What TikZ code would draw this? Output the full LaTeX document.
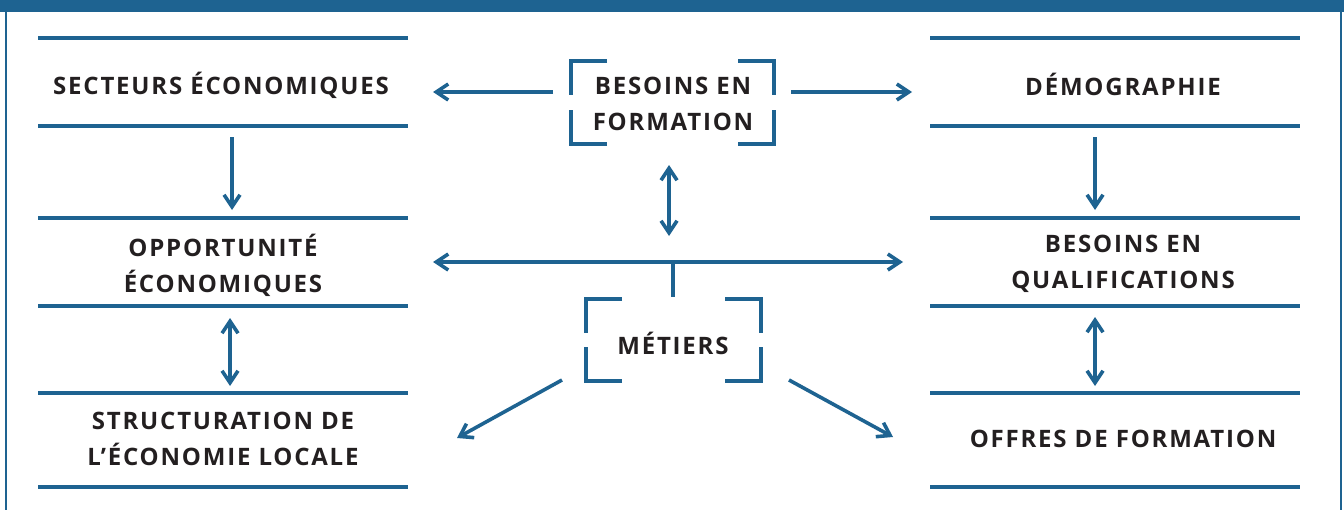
\documentclass[tikz,border=0pt]{standalone}
\usepackage{fontspec}
\setmainfont{Open Sans}
\newfontfamily\labfont[LetterSpace=7.5]{Open Sans}
\usetikzlibrary{arrows.meta}
\definecolor{bl}{HTML}{1E6391}
\definecolor{tx}{HTML}{231F20}
\begin{document}
\begin{tikzpicture}[x=0.75pt,y=-0.75pt,
  lab/.style={font=\labfont\fontsize{18}{27}\bfseries\selectfont, text=tx, align=center, inner sep=0pt},
  rule/.style={draw=bl, line width=2.4pt},
  conn/.style={draw=bl, line width=2.7pt, -{Straight Barb[length=9pt,width=12pt,line width=2.7pt]}},
  dconn/.style={draw=bl, line width=2.7pt, {Straight Barb[length=9pt,width=12pt,line width=2.7pt]}-{Straight Barb[length=9pt,width=12pt,line width=2.7pt]}},
  brk/.style={draw=bl, line width=2.4pt}]
\useasboundingbox (0,0) rectangle (1344,510);
% frame
\fill[bl] (0,0) rectangle (1344,12);
\draw[bl, line width=1.6pt] (6,12) -- (6,510);
\draw[bl, line width=1.6pt] (1341,12) -- (1341,510);
% rules
\foreach \y in {38,126,218,306,393,487}{
  \draw[rule] (38,\y) -- (408,\y);
  \draw[rule] (930,\y) -- (1300,\y);
}
% labels
\node[lab] (sec) at (221,85) {SECTEURS ÉCONOMIQUES};
\node[lab] (opp) at (223,265) {OPPORTUNITÉ\\ÉCONOMIQUES};
\node[lab] (str) at (223,439) {STRUCTURATION DE\\L’ÉCONOMIE LOCALE};
\node[lab] (dem) at (1123,84) {DÉMOGRAPHIE};
\node[lab] (qua) at (1123,264) {BESOINS EN\\QUALIFICATIONS};
\node[lab] (off) at (1123,439) {OFFRES DE FORMATION};
\node[lab] (bf) at (673,104) {BESOINS EN\\FORMATION};
\node[lab] (met) at (673,343) {MÉTIERS};
% brackets for BESOINS EN FORMATION
\draw[brk] (607,61) -- (571,61) -- (571,95);
\draw[brk] (607,144) -- (571,144) -- (571,110);
\draw[brk] (738,61) -- (774,61) -- (774,95);
\draw[brk] (738,144) -- (774,144) -- (774,110);
% brackets for METIERS
\draw[brk] (622,299) -- (586,299) -- (586,333);
\draw[brk] (622,381) -- (586,381) -- (586,347);
\draw[brk] (725,299) -- (761,299) -- (761,333);
\draw[brk] (725,381) -- (761,381) -- (761,347);
% coordinates
\coordinate (bfL) at (553,92);
\coordinate (bfR) at (791,92);
\coordinate (secR) at (433,92);
\coordinate (demL) at (912,92);
\coordinate (v1) at (669,165);
\coordinate (v2) at (669,236);
\coordinate (hL) at (433,262);
\coordinate (hR) at (903,262);
\coordinate (hM) at (673,262);
\coordinate (metT) at (673,297);
\coordinate (dL1) at (562,380);
\coordinate (dL2) at (457,438);
\coordinate (dR1) at (789,380);
\coordinate (dR2) at (893,437);
\coordinate (a1) at (232,137);
\coordinate (a2) at (232,210);
\coordinate (b1) at (230,318);
\coordinate (b2) at (230,386);
\coordinate (c1) at (1095,137);
\coordinate (c2) at (1095,210);
\coordinate (e1) at (1095,317);
\coordinate (e2) at (1095,386);
% connectors
\draw[conn] (bfL) -- (secR);
\draw[conn] (bfR) -- (demL);
\draw[dconn] (v1) -- (v2);
\draw[dconn] (hL) -- (hR);
\draw[draw=bl, line width=2.7pt] (hM) -- (metT);
\draw[conn] (dL1) -- (dL2);
\draw[conn] (dR1) -- (dR2);
\draw[conn] (a1) -- (a2);
\draw[dconn] (b1) -- (b2);
\draw[conn] (c1) -- (c2);
\draw[dconn] (e1) -- (e2);
\end{tikzpicture}
\end{document}
